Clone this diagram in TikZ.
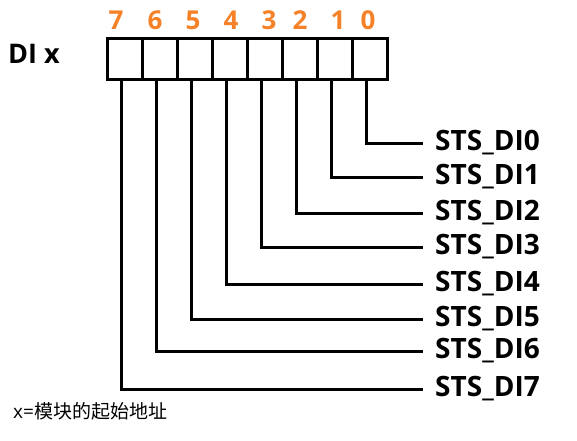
\documentclass[tikz,border=0pt]{standalone}
\usepackage{fontspec}
\setmainfont{Open Sans}
\newfontfamily\cjk{Noto Sans CJK SC}
\usetikzlibrary{positioning, calc}
\definecolor{bitorange}{RGB}{245,130,40}
\tikzset{
  cell/.style={draw, line width=3pt, minimum width=35pt, minimum height=41pt, inner sep=0pt},
  bitnum/.style={text=bitorange, font=\fontsize{26}{26}\selectfont\bfseries, inner sep=0pt},
  sig/.style={anchor=west, inner xsep=12pt, inner ysep=0pt, font=\fontsize{28}{28}\selectfont\bfseries},
  wire/.style={line width=3pt},
}

\begin{document}
\begin{tikzpicture}[x=1pt, y=-1pt]
    \useasboundingbox (0,0) rectangle (577,440);
    \node[anchor=west, inner sep=0pt, font=\fontsize{27}{27}\selectfont\bfseries] (dix) at (8,54) {DI x};
    \foreach \i/\nx/\ly in {7/116/389, 6/155/351, 5/193/319, 4/231/284, 3/269/247, 2/300/213, 1/338/177, 0/368/143} {
      \node[cell] (c\i) at ({124.5+35*(7-\i)},58.5) {};
      \node[bitnum] (n\i) at (\nx,20) {\i};
      \node[sig] (s\i) at (423,\ly) {STS\_DI\i};
      \draw[wire] ([xshift=-3pt]c\i.south) |- (s\i.west);
    }
    \node[anchor=west, inner sep=0pt, font=\fontsize{19}{19}\selectfont] (note) at (13,411) {x=\cjk 模块的起始地址};
  \end{tikzpicture}
\end{document}
